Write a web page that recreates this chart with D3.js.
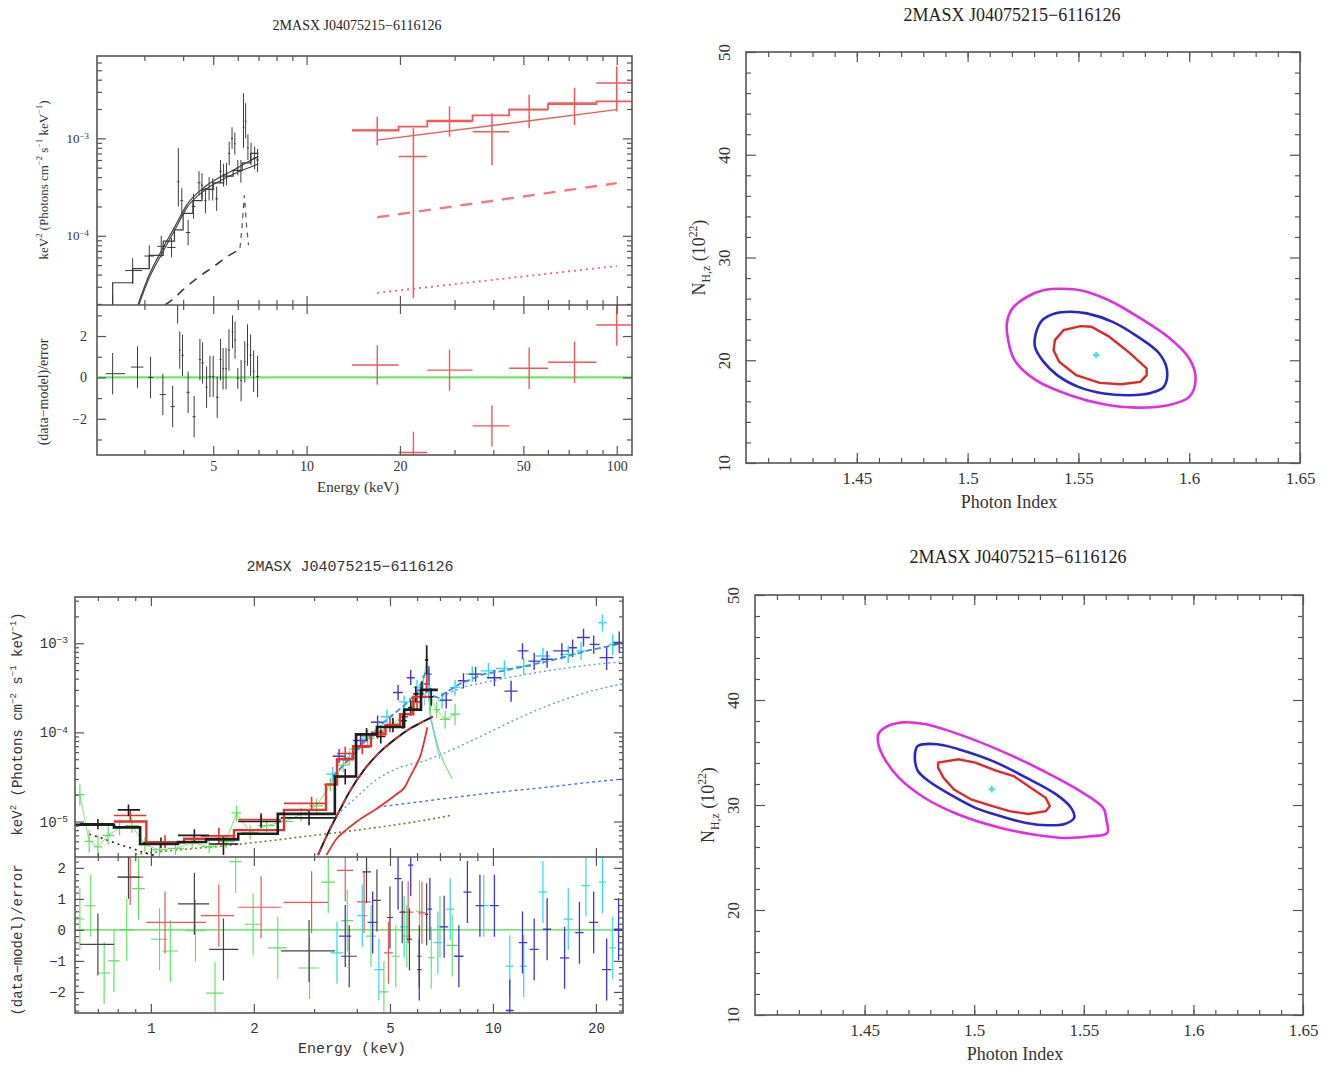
<!DOCTYPE html>
<html>
<head>
<meta charset="utf-8">
<script src="https://cdn.jsdelivr.net/npm/d3@7"></script>
<style>body{margin:0;background:#fff}</style>
</head>
<body>
<svg id="fig" width="1327" height="1066"></svg>
<script>
const TITLE = "2MASX J04075215\u22126116126";

// ---------- top-left spectrum : [E, Elo, Ehi, F, Flo, Fhi] ----------
const tlPnData = [
  [2.37, 2.25, 2.50, 1.9e-5, 1.5e-5, 2.5e-5], [2.75, 2.60, 2.95, 4.4e-5, 3.2e-5, 5.9e-5],
  [3.11, 3.00, 3.22, 6.2e-5, 4.6e-5, 8.0e-5], [3.40, 3.30, 3.52, 7.8e-5, 6.0e-5, 1.0e-4],
  [3.67, 3.55, 3.78, 7.6e-5, 6.0e-5, 9.5e-5], [3.86, 3.83, 3.89, 3.6e-4, 2.0e-4, 8.0e-4],
  [3.96, 3.92, 4.00, 2.3e-4, 1.6e-4, 3.1e-4], [4.15, 4.08, 4.22, 1.08e-4, 8.0e-5, 1.45e-4],
  [4.32, 4.26, 4.38, 2.0e-4, 1.5e-4, 2.7e-4], [4.50, 4.45, 4.55, 3.5e-4, 2.6e-4, 4.6e-4],
  [4.60, 4.56, 4.64, 3.3e-4, 2.4e-4, 4.4e-4], [4.72, 4.68, 4.76, 2.3e-4, 1.7e-4, 3.1e-4],
  [4.85, 4.80, 4.90, 3.0e-4, 2.3e-4, 4.0e-4], [4.98, 4.93, 5.03, 3.0e-4, 2.3e-4, 3.9e-4],
  [5.13, 5.08, 5.18, 2.4e-4, 1.8e-4, 3.2e-4], [5.28, 5.23, 5.33, 4.6e-4, 3.5e-4, 6.0e-4],
  [5.40, 5.35, 5.45, 4.2e-4, 3.2e-4, 5.5e-4], [5.52, 5.47, 5.57, 4.3e-4, 3.3e-4, 5.6e-4],
  [5.63, 5.59, 5.67, 7.0e-4, 5.3e-4, 9.2e-4], [5.75, 5.71, 5.79, 1.0e-3, 7.8e-4, 1.3e-3],
  [5.87, 5.83, 5.91, 8.8e-4, 6.8e-4, 1.15e-3], [6.00, 5.95, 6.05, 5.0e-4, 4.2e-4, 6.0e-4],
  [6.14, 6.09, 6.19, 4.6e-4, 3.5e-4, 6.0e-4], [6.26, 6.22, 6.30, 1.3e-3, 8.0e-4, 2.9e-3],
  [6.36, 6.32, 6.40, 1.5e-3, 1.0e-3, 2.3e-3], [6.47, 6.43, 6.51, 8.0e-4, 6.0e-4, 1.1e-3],
  [6.62, 6.56, 6.68, 7.0e-4, 5.3e-4, 9.0e-4], [6.80, 6.72, 6.88, 6.3e-4, 4.8e-4, 8.2e-4],
  [6.95, 6.88, 7.02, 6.0e-4, 4.5e-4, 7.8e-4]
];
const tlBatData = [
  [16.9, 14.0, 19.8, 1.22e-3, 8.5e-4, 1.67e-3], [22.1, 19.8, 24.5, 6.5e-4, 2.3e-5, 1.27e-3],
  [28.9, 24.5, 34.3, 1.49e-3, 1.04e-3, 2.13e-3], [39.6, 34.3, 45.0, 1.17e-3, 5.3e-4, 1.81e-3],
  [52.2, 45.0, 60.0, 1.97e-3, 1.27e-3, 2.8e-3], [73.1, 60.0, 86.0, 2.3e-3, 1.37e-3, 3.3e-3],
  [100, 86.0, 112, 3.7e-3, 1.89e-3, 5.5e-3]
];
const tlPnStepE = [2.37, 2.75, 3.11, 3.45, 3.75, 4.0, 4.3, 4.6, 5.0, 5.4, 5.8, 6.2, 6.6, 7.0];
const tlPnStepF = [3.3e-5, 4.6e-5, 6.3e-5, 8.8e-5, 1.15e-4, 1.7e-4, 2.3e-4, 3.0e-4, 3.5e-4, 4.1e-4, 4.7e-4, 5.6e-4, 7.0e-4];
const tlTotalE = [2.85, 3.1, 3.4, 3.75, 4.12, 4.68, 5.3, 6.0, 6.5, 7.0];
const tlTotalF = [1.9e-5, 3.9e-5, 7.0e-5, 1.22e-4, 2.1e-4, 3.15e-4, 4.05e-4, 5.0e-4, 5.8e-4, 6.5e-4];
const tlAbsE = [2.87, 3.11, 3.41, 3.75, 4.12, 4.68, 5.30, 6.01, 6.82, 7.0];
const tlAbsF = [1.9e-5, 3.7e-5, 6.5e-5, 1.13e-4, 1.96e-4, 2.92e-4, 3.71e-4, 4.52e-4, 5.3e-4, 5.5e-4];
const tlDashE = [3.5, 3.75, 4.0, 4.5, 5.0, 5.5, 6.2];
const tlDashF = [1.95e-5, 2.3e-5, 2.8e-5, 3.8e-5, 4.8e-5, 6.0e-5, 7.5e-5];
const tlLineE = [6.1, 6.2, 6.3, 6.4, 6.5];
const tlLineF = [7.5e-5, 1.3e-4, 2.6e-4, 1.3e-4, 8e-5];
const tlBatStepE = [14.0, 19.8, 24.5, 34.3, 45.0, 60.0, 86.0, 112];
const tlBatStepF = [1.2e-3, 1.32e-3, 1.52e-3, 1.72e-3, 1.98e-3, 2.25e-3, 2.4e-3];
const tlBatPlE = [16.9, 100], tlBatPlF = [9.6e-4, 1.97e-3];
const tlBatDashF = [1.55e-4, 3.47e-4];
const tlBatDotF = [2.6e-5, 4.9e-5];
// residuals : [E, Elo, Ehi, R, err]
const tlPnResid = [
  [2.37, 2.25, 2.60, 0.18, 1.0], [2.85, 2.72, 2.98, 0.5, 1.0], [3.14, 3.08, 3.20, 0.0, 1.0],
  [3.44, 3.36, 3.52, -0.83, 1.0], [3.70, 3.64, 3.76, -1.41, 1.0], [3.84, 3.82, 3.86, 3.9, 1.3],
  [3.90, 3.88, 3.93, 1.32, 0.9], [3.98, 3.95, 4.02, 1.07, 1.0], [4.15, 4.10, 4.20, -0.72, 1.0],
  [4.34, 4.29, 4.39, -1.9, 1.0], [4.53, 4.49, 4.57, 0.86, 1.0], [4.62, 4.58, 4.66, 0.7, 1.0],
  [4.76, 4.72, 4.80, -0.47, 1.0], [4.88, 4.84, 4.92, 0.05, 1.0], [5.00, 4.96, 5.04, 0.05, 1.0],
  [5.15, 5.10, 5.20, -0.96, 1.0], [5.28, 5.24, 5.32, 0.86, 1.0], [5.38, 5.34, 5.42, 0.42, 1.0],
  [5.50, 5.46, 5.54, 0.42, 1.0], [5.62, 5.58, 5.66, 1.32, 1.0], [5.77, 5.73, 5.81, 2.2, 0.8],
  [5.88, 5.84, 5.92, 1.8, 0.9], [6.00, 5.96, 6.04, -0.05, 0.5], [6.15, 6.11, 6.19, -0.15, 1.0],
  [6.32, 6.28, 6.36, 0.75, 1.0], [6.45, 6.41, 6.49, 1.56, 1.0], [6.60, 6.55, 6.65, 1.07, 1.0],
  [6.75, 6.70, 6.80, 0.3, 1.0], [6.95, 6.88, 7.02, 0.05, 1.0]
];
const tlBatResid = [
  [16.9, 14.0, 19.8, 0.6, 0.95], [22.1, 19.8, 24.5, -3.63, 1.0], [28.9, 24.5, 34.3, 0.35, 1.0],
  [39.6, 34.3, 45.0, -2.34, 1.0], [52.2, 45.0, 60.0, 0.44, 1.0], [73.1, 60.0, 86.0, 0.73, 1.0],
  [100, 86.0, 112, 2.53, 1.0]
];

// ---------- confidence contours : [PhotonIndex, NH] ----------
const trBest = [1.558, 20.5];
const trC99 = [[1.5177,23.58],[1.5202,25.04],[1.5269,26.18],[1.5346,26.83],[1.5423,26.96],[1.5519,26.77],[1.5635,25.86],[1.5769,24.23],[1.5904,22.28],[1.6000,20.17],[1.6029,18.22],[1.6000,16.43],[1.5904,15.62],[1.5760,15.39],[1.5615,15.72],[1.5462,16.60],[1.5308,18.06],[1.5212,20.01],[1.5183,21.96]];
const trC90 = [[1.5308,22.61],[1.5337,23.91],[1.5394,24.56],[1.5462,24.72],[1.5538,24.56],[1.5654,23.74],[1.5769,22.28],[1.5865,20.66],[1.5900,19.03],[1.5885,17.41],[1.5827,16.82],[1.5731,16.60],[1.5615,16.76],[1.5500,17.41],[1.5404,18.55],[1.5337,20.01],[1.5304,21.31]];
const trC68 = [[1.5394,21.96],[1.5433,22.93],[1.5510,23.32],[1.5558,23.26],[1.5635,22.35],[1.5731,20.72],[1.5808,19.20],[1.5808,18.55],[1.5779,17.90],[1.5692,17.67],[1.5596,17.80],[1.5490,18.55],[1.5413,19.85],[1.5388,20.98]];
const brBest = [1.508, 31.5];
const brC99 = [[1.4563,36.75],[1.4598,37.45],[1.4675,37.87],[1.4773,37.71],[1.4928,36.75],[1.5122,35.16],[1.5316,33.24],[1.5471,31.48],[1.5588,29.73],[1.5603,28.61],[1.5607,27.33],[1.5530,27.02],[1.5413,26.86],[1.5277,27.17],[1.5122,27.81],[1.4928,29.09],[1.4773,30.69],[1.4656,32.60],[1.4588,34.52],[1.4563,35.79]];
const brC90 = [[1.4734,35.32],[1.4743,35.63],[1.4831,35.79],[1.4928,35.32],[1.5083,34.20],[1.5238,32.60],[1.5374,31.01],[1.5442,29.73],[1.5456,28.77],[1.5413,28.20],[1.5335,28.07],[1.5238,28.29],[1.5122,28.93],[1.5005,29.73],[1.4889,31.01],[1.4792,32.28],[1.4743,33.24],[1.4730,34.20]];
const brC68 = [[1.4835,34.04],[1.4928,34.36],[1.5005,34.04],[1.5102,33.24],[1.5180,32.76],[1.5258,31.64],[1.5326,30.69],[1.5345,29.89],[1.5326,29.41],[1.5248,29.15],[1.5161,29.41],[1.5083,29.89],[1.4986,30.53],[1.4908,31.48],[1.4860,32.60],[1.4835,33.56]];

// ---------- bottom-left spectrum ----------
const blPnData = [
  [0.70,0.62,0.78,9.4e-6,8.2e-6,1.07e-5],[0.86,0.80,0.93,1.35e-5,1.15e-5,1.55e-5],[1.07,0.95,1.20,5.8e-6,5.0e-6,6.6e-6],
  [1.34,1.20,1.48,7.0e-6,6.0e-6,8.2e-6],[1.63,1.48,1.80,5.6e-6,4.2e-6,6.8e-6],[2.10,1.80,2.40,1.0e-5,8.5e-6,1.2e-5],
  [2.90,2.40,3.45,1.1e-5,9.0e-6,1.35e-5],[3.70,3.45,3.95,3.2e-5,2.6e-5,3.9e-5],[4.27,4.0,4.55,9.5e-5,8.0e-5,1.12e-4],
  [4.7,4.55,4.85,9.0e-5,7.5e-5,1.08e-4],[5.1,4.95,5.25,1.2e-4,1.0e-4,1.45e-4],[5.45,5.3,5.6,1.35e-4,1.1e-4,1.6e-4],
  [5.75,5.65,5.85,1.9e-4,1.55e-4,2.3e-4],[5.95,5.85,6.05,2.7e-4,2.2e-4,3.3e-4],[6.2,6.1,6.3,3.0e-4,2.4e-4,3.7e-4],
  [6.4,6.33,6.47,6.5e-4,4.5e-4,9.5e-4],[6.6,6.5,6.7,2.5e-4,2.0e-4,3.1e-4]
];
const blMos1Data = [
  [0.87,0.78,0.97,1.17e-5,1.0e-5,1.35e-5],[1.10,0.97,1.25,5.9e-6,5.0e-6,7.0e-6],[1.58,1.40,1.75,6.9e-6,5.6e-6,8.5e-6],
  [2.10,1.80,2.40,1.05e-5,9.0e-6,1.25e-5],[2.95,2.45,3.25,1.6e-5,1.35e-5,1.9e-5],[3.70,3.50,3.90,5.8e-5,4.8e-5,6.9e-5],
  [4.15,3.95,4.35,6.8e-5,5.7e-5,8.0e-5],[4.6,4.4,4.8,1.0e-4,8.5e-5,1.2e-4],[5.0,4.85,5.15,1.2e-4,1.0e-4,1.45e-4],
  [5.5,5.35,5.65,1.5e-4,1.25e-4,1.8e-4],[6.0,5.85,6.15,2.2e-4,1.8e-4,2.7e-4],[6.4,6.3,6.5,3.5e-4,2.8e-4,4.4e-4]
];
const blMos2Data = [
  [0.62,0.60,0.64,2.0e-5,1.5e-5,2.6e-5],[0.66,0.64,0.68,6.0e-6,4.5e-6,8.0e-6],[0.70,0.68,0.72,5.2e-6,4.0e-6,7.0e-6],
  [0.75,0.72,0.78,7.0e-6,5.5e-6,9.0e-6],[0.81,0.78,0.84,8.5e-6,7.0e-6,1.05e-5],[0.88,0.84,0.92,9.0e-6,7.5e-6,1.1e-5],
  [0.96,0.92,1.0,5.5e-6,4.6e-6,6.6e-6],[1.06,1.0,1.12,4.8e-6,4.0e-6,5.8e-6],[1.18,1.12,1.25,5.0e-6,4.2e-6,6.0e-6],
  [1.32,1.25,1.40,5.8e-6,4.9e-6,6.8e-6],[1.48,1.40,1.57,5.2e-6,4.4e-6,6.2e-6],[1.66,1.57,1.76,6.0e-6,5.0e-6,7.2e-6],
  [1.78,1.72,1.84,1.25e-5,1.0e-5,1.5e-5],[1.95,1.84,2.06,7.5e-6,6.3e-6,9.0e-6],[2.18,2.06,2.30,9.0e-6,7.6e-6,1.07e-5],
  [2.45,2.30,2.60,1.0e-5,8.5e-6,1.2e-5],[2.75,2.60,2.90,1.2e-5,1.0e-5,1.45e-5],[3.05,2.90,3.20,1.5e-5,1.25e-5,1.8e-5],
  [3.35,3.20,3.50,2.6e-5,2.2e-5,3.1e-5],[3.65,3.50,3.80,4.3e-5,3.6e-5,5.1e-5],[3.95,3.80,4.10,6.5e-5,5.5e-5,7.7e-5],
  [4.3,4.1,4.5,8.5e-5,7.2e-5,1.0e-4],[4.7,4.5,4.9,1.05e-4,9.0e-5,1.23e-4],[5.1,4.9,5.3,1.25e-4,1.07e-4,1.45e-4],
  [5.5,5.3,5.7,1.6e-4,1.35e-4,1.9e-4],[5.9,5.7,6.1,2.2e-4,1.85e-4,2.6e-4],[6.25,6.15,6.35,3.5e-4,2.8e-4,4.4e-4],
  [6.42,6.37,6.47,7.0e-4,5.5e-4,9.0e-4],[6.6,6.5,6.7,2.3e-4,1.9e-4,2.8e-4],[6.85,6.7,7.0,1.8e-4,1.45e-4,2.2e-4],
  [7.25,7.0,7.5,1.4e-4,1.1e-4,1.75e-4],[7.75,7.5,8.0,1.6e-4,1.2e-4,2.1e-4]
];
const blFpmaData = [
  [3.55,3.4,3.7,5.4e-5,4.5e-5,6.5e-5],[4.1,3.9,4.3,8.1e-5,6.8e-5,9.6e-5],[4.6,4.4,4.8,1.3e-4,1.1e-4,1.55e-4],
  [5.28,5.1,5.45,2.8e-4,2.3e-4,3.4e-4],[5.75,5.6,5.9,4.1e-4,3.4e-4,5.0e-4],[6.15,6.0,6.3,2.7e-4,2.2e-4,3.3e-4],
  [6.5,6.38,6.62,4.5e-4,3.7e-4,5.5e-4],[7.3,7.0,7.6,2.3e-4,1.85e-4,2.85e-4],[8.2,7.9,8.5,3.8e-4,3.1e-4,4.6e-4],
  [8.9,8.5,9.3,4.5e-4,3.7e-4,5.4e-4],[10.1,9.6,10.6,4.1e-4,3.3e-4,5.0e-4],[11.3,10.8,11.8,2.9e-4,2.2e-4,3.8e-4],
  [12.2,11.8,12.7,8.2e-4,6.6e-4,1.0e-3],[13.2,12.7,13.8,6.3e-4,5.0e-4,7.8e-4],[14.4,13.8,15.0,6.6e-4,5.3e-4,8.2e-4],
  [15.9,15.0,16.7,8.2e-4,6.6e-4,1.0e-3],[17.1,16.7,17.6,8.9e-4,7.0e-4,1.1e-3],[18.4,17.6,19.2,1.16e-3,9.2e-4,1.45e-3],
  [19.7,19.2,20.5,9.7e-4,7.6e-4,1.22e-3],[21.5,20.5,22.5,6.9e-4,5.0e-4,9.2e-4],[23.4,22.5,24.0,1.02e-3,7.8e-4,1.35e-3]
];
const blFpmbData = [
  [3.4,3.25,3.55,3.4e-5,2.8e-5,4.1e-5],[3.8,3.65,3.95,5.2e-5,4.3e-5,6.2e-5],[4.3,4.1,4.5,9.0e-5,7.5e-5,1.07e-4],
  [4.9,4.7,5.1,1.5e-4,1.25e-4,1.8e-4],[5.5,5.3,5.7,2.2e-4,1.8e-4,2.6e-4],[6.0,5.85,6.15,3.2e-4,2.6e-4,3.9e-4],
  [6.5,6.35,6.65,2.8e-4,2.3e-4,3.4e-4],[7.1,6.9,7.3,2.27e-4,1.85e-4,2.8e-4],[7.75,7.5,8.0,3.2e-4,2.6e-4,3.9e-4],
  [8.7,8.3,9.1,4.5e-4,3.7e-4,5.5e-4],[9.7,9.2,10.2,4.9e-4,4.0e-4,6.0e-4],[10.8,10.2,11.4,5.2e-4,4.2e-4,6.4e-4],
  [12.3,11.7,12.9,5.5e-4,4.4e-4,6.8e-4],[14.0,13.3,14.7,7.2e-4,5.8e-4,8.9e-4],[16.6,15.7,17.5,7.5e-4,6.0e-4,9.4e-4],
  [18.1,17.5,18.7,8.2e-4,6.5e-4,1.03e-3],[20.9,20.3,21.5,1.7e-3,1.35e-3,2.1e-3],[22.4,21.8,23.0,9.7e-4,7.4e-4,1.25e-3]
];
const blPnStepE = [0.60, 0.78, 0.93, 1.20, 1.45, 1.80, 2.35, 3.45, 3.98, 4.58, 5.5, 6.16, 6.9];
const blPnStepF = [9.2e-6, 8.6e-6, 5.6e-6, 5.9e-6, 6.3e-6, 7.3e-6, 1.22e-5, 3.2e-5, 9.5e-5, 1.15e-4, 1.8e-4, 3.0e-4];
const blMosStepE = [0.78, 0.97, 1.25, 1.75, 2.45, 3.25, 3.5, 3.9, 4.4, 4.85, 5.35, 5.85, 6.5];
const blMosStepF = [1.0e-5, 5.8e-6, 6.4e-6, 8.0e-6, 1.35e-5, 2.6e-5, 5.0e-5, 7.0e-5, 9.5e-5, 1.2e-4, 1.6e-4, 2.5e-4];
const blNuModE = [3.4, 3.8, 4.3, 4.9, 5.5, 6.0, 6.4, 6.6, 6.9, 8.0, 9.4, 11, 12.6, 14.5, 16.6, 19, 24];
const blNuModF = [3.2e-5, 5.0e-5, 8.5e-5, 1.4e-4, 2.0e-4, 2.8e-4, 5.0e-4, 2.6e-4, 2.46e-4, 3.5e-4, 4.5e-4, 5.0e-4, 5.6e-4, 6.3e-4, 7.2e-4, 8.3e-4, 1.0e-3];
const blAbsE = [3.08, 3.3, 3.55, 3.82, 4.2, 4.67, 5.2, 5.72, 6.2, 6.67];
const blAbsF = [4.2e-6, 7.5e-6, 1.3e-5, 2.2e-5, 3.8e-5, 6.0e-5, 8.5e-5, 1.1e-4, 1.3e-4, 1.5e-4];
const blReflE = [3.26, 3.5, 3.7, 4.0, 4.64, 5.2, 5.51, 5.75, 6.0, 6.16, 6.3, 6.43];
const blReflF = [4.2e-6, 6.5e-6, 7.9e-6, 1.0e-5, 1.45e-5, 2.0e-5, 2.4e-5, 3.3e-5, 4.5e-5, 5.7e-5, 8.0e-5, 1.14e-4];
const blNuTopE = [6.9, 8, 10, 12.6, 16, 20, 24];
const blNuTopF = [2.4e-4, 3.1e-4, 3.8e-4, 4.5e-4, 5.2e-4, 5.8e-4, 6.2e-4];
const blNuMidE = [3.6, 4.0, 4.6, 5.3, 6.2, 7.0, 8.0, 10, 12.6, 16, 20, 24];
const blNuMidF = [1.3e-5, 1.9e-5, 3.0e-5, 4.0e-5, 4.7e-5, 5.6e-5, 7.0e-5, 1.05e-4, 1.6e-4, 2.3e-4, 3.0e-4, 3.5e-4];
const blNuLowE = [4.6, 6, 8, 10, 14, 20, 24];
const blNuLowF = [1.45e-5, 1.65e-5, 1.9e-5, 2.1e-5, 2.4e-5, 2.8e-5, 3.0e-5];
const blScatE = [0.9, 1.2, 1.6, 2.0, 3.0, 4.0, 5.0, 6.0, 7.5];
const blScatF = [4.3e-6, 4.8e-6, 5.3e-6, 5.8e-6, 7.0e-6, 8.0e-6, 9.0e-6, 1.0e-5, 1.17e-5];
const blThermE = [0.66, 0.72, 0.8, 0.88, 0.95, 1.02];
const blThermF = [7.2e-6, 6.5e-6, 5.6e-6, 5.0e-6, 4.5e-6, 4.2e-6];
const blGreenDropE = [6.4, 6.6, 6.9, 7.2, 7.6];
const blGreenDropF = [7e-4, 1.4e-4, 7e-5, 4.5e-5, 3.0e-5];
const blFeE = [6.3, 6.42, 6.55, 6.75, 7.0];
const blFeF = [2.0e-4, 4.5e-4, 1.5e-4, 9e-5, 5.0e-5];
const blPnResid = [
  [0.70,0.62,0.78,-0.47,1.0],[0.86,0.80,0.93,1.7,0.7],[1.34,1.20,1.48,0.84,1.0],[1.63,1.48,1.80,-0.63,1.0],
  [2.90,2.40,3.45,-0.68,1.0],[3.80,3.60,4.00,-0.85,1.0],[4.27,4.15,4.40,1.87,1.0],[4.58,4.45,4.70,0.95,1.0],
  [5.0,4.9,5.1,0.4,1.0],[5.43,5.33,5.53,0.57,1.0],[5.7,5.6,5.8,-0.3,1.0],[6.09,6.0,6.18,-0.85,1.0],[6.4,6.33,6.47,0.5,1.0]
];
const blMos1Resid = [
  [0.87,0.80,0.95,1.7,0.9],[1.10,0.97,1.45,0.24,1.0],[1.58,1.40,1.75,0.46,1.0],[2.10,1.80,2.40,0.73,1.0],
  [2.95,2.45,3.30,0.89,1.0],[3.70,3.50,3.90,1.92,1.0],[4.20,4.00,4.40,0.9,1.0],[4.95,4.80,5.10,-0.74,1.0],
  [5.65,5.45,5.85,0.57,1.0],[6.2,6.05,6.35,0.55,1.0]
];
const blMos2Resid = [
  [0.62,0.60,0.64,0.35,1.0],[0.667,0.64,0.69,0.78,1.0],[0.73,0.70,0.76,-1.39,1.0],[0.78,0.75,0.81,-1.0,1.0],
  [0.85,0.81,0.89,0.0,1.0],[0.92,0.88,0.96,1.33,1.0],[1.06,1.00,1.12,-0.3,1.0],[1.14,1.08,1.20,-0.68,1.0],
  [1.35,1.26,1.44,-0.03,1.0],[1.54,1.45,1.63,-2.04,1.0],[1.77,1.70,1.84,2.2,1.0],[1.99,1.88,2.10,0.18,1.0],
  [2.35,2.20,2.50,-0.58,1.0],[2.91,2.70,3.10,-1.23,1.0],[3.3,3.15,3.45,1.54,1.0],[3.75,3.6,3.9,0.3,1.0],
  [4.4,4.25,4.55,-0.2,1.0],[4.8,4.65,4.95,-2.0,1.0],[5.2,5.05,5.35,-0.85,1.0],[5.6,5.45,5.75,-0.2,1.0],
  [6.1,5.95,6.25,0.6,1.0],[6.6,6.45,6.75,-0.9,1.0],[7.0,6.85,7.2,0.1,1.0],[7.6,7.3,7.9,-0.5,1.0]
];
const blFpmaResid = [
  [3.7,3.55,3.85,-0.2,1.0],[4.45,4.3,4.6,0.24,1.0],[5.28,5.15,5.4,1.65,1.0],[5.75,5.65,5.85,2.09,1.0],
  [6.09,6.0,6.18,-1.28,1.0],[6.54,6.44,6.64,0.67,1.0],[7.2,7.0,7.4,0.1,1.0],[7.95,7.7,8.2,-0.85,1.0],
  [8.42,8.2,8.65,1.22,1.0],[9.16,8.9,9.4,0.78,1.0],[10.1,9.8,10.4,0.78,1.0],[11.2,10.9,11.5,-2.6,1.0],
  [12.2,11.9,12.6,-0.41,1.0],[13.2,12.8,13.6,-0.63,1.0],[14.4,14.0,14.8,0.02,1.0],[16.2,15.7,16.7,-0.9,1.0],
  [17.9,17.4,18.4,-0.09,1.0],[19.7,19.1,20.3,0.24,1.0],[21.5,20.8,22.2,-1.28,1.0],[23.3,22.6,24.0,0.02,1.0]
];
const blFpmbResid = [
  [3.5,3.35,3.65,-0.74,1.0],[4.15,4.0,4.3,0.46,1.0],[4.64,4.5,4.8,-1.28,1.0],[5.5,5.35,5.65,0.1,1.0],
  [6.9,6.7,7.1,-0.41,1.0],[7.5,7.3,7.7,0.67,1.0],[9.4,9.1,9.7,0.78,1.0],[11.2,10.9,11.5,-1.17,1.0],
  [12.3,12.0,12.6,-1.17,1.0],[14.0,13.6,14.4,1.22,1.0],[16.6,16.1,17.1,0.35,1.0],[18.7,18.2,19.2,1.43,1.0],
  [20.9,20.4,21.4,1.54,1.0],[22.4,21.9,22.9,-0.58,1.0]
];

// ---------- tick values ----------
const tlXMajor = [5, 10, 20, 50, 100];
const tlXMinor = [3, 4, 6, 7, 8, 9, 30, 40, 60, 70, 80, 90];
const tlYMajor = [1e-4, 1e-3];
const tlYMinor = [2e-5,3e-5,4e-5,5e-5,6e-5,7e-5,8e-5,9e-5,2e-4,3e-4,4e-4,5e-4,6e-4,7e-4,8e-4,9e-4,2e-3,3e-3,4e-3,5e-3,6e-3];
const tlRMajor = [-2, 0, 2];
const tlRMinor = [-3, -1, 1, 3];
const ctXMajor = [1.45, 1.5, 1.55, 1.6, 1.65];
const ctXMinor = d3.range(141, 165).map(v => v / 100);
const ctYMajor = [10, 20, 30, 40, 50];
const ctYMinor = [12,14,16,18,22,24,26,28,32,34,36,38,42,44,46,48];
const blXMajor = [1, 2, 5, 10, 20];
const blXMinor = [0.7, 0.8, 0.9, 3, 4, 6, 7, 8, 9];
const blYMajor = [1e-5, 1e-4, 1e-3];
const blYMinor = [5e-6,6e-6,7e-6,8e-6,9e-6,2e-5,3e-5,4e-5,5e-5,6e-5,7e-5,8e-5,9e-5,2e-4,3e-4,4e-4,5e-4,6e-4,7e-4,8e-4,9e-4,2e-3,3e-3];
const blRMajor = [-2, -1, 0, 1, 2];
const blRMinor = d3.range(-26, 24, 2).map(v => v / 10).filter(v => Math.abs(v - Math.round(v)) > 0.01);

const SERIF = "'Liberation Serif', 'DejaVu Serif', serif";
const MONO = "'Liberation Mono', 'DejaVu Sans Mono', monospace";

const svg = d3.select("#fig");
svg.append("rect").attr("width", 1327).attr("height", 1066).attr("fill", "#fff");
const defs = svg.append("defs");
let clipN = 0;
function clipped(x0, y0, x1, y1) {
  const id = "clip" + (clipN++);
  defs.append("clipPath").attr("id", id).append("rect")
    .attr("x", x0).attr("y", y0).attr("width", x1 - x0).attr("height", y1 - y0);
  return svg.append("g").attr("clip-path", `url(#${id})`);
}

// rich text with super/subscripts, parts: [text, "sup"|"sub"|undefined]
function rich(g, x, y, parts, o) {
  const t = g.append("text")
    .attr("transform", `translate(${x},${y})` + (o.rot ? " rotate(-90)" : ""))
    .attr("text-anchor", "middle").attr("font-family", o.font)
    .attr("font-size", o.size).attr("fill", o.fill || "#333");
  let cur = 0;
  parts.forEach(([s, m]) => {
    const target = m === "sup" ? -o.size * 0.45 : m === "sub" ? o.size * 0.3 : 0;
    const ts = t.append("tspan").text(s).attr("dy", target - cur);
    if (m) ts.attr("font-size", o.size * 0.65);
    cur = target;
  });
  return t;
}

function frame(x0, y0, x1, y1) {
  svg.append("rect").attr("x", x0).attr("y", y0).attr("width", x1 - x0).attr("height", y1 - y0)
    .attr("fill", "none").attr("stroke", "#555").attr("stroke-width", 1.6);
}

function axes(xs, ys, c) {
  const g = svg.append("g");
  const add = (axis, tx, ty) => {
    const a = g.append("g").attr("transform", `translate(${tx},${ty})`).call(axis);
    a.select(".domain").remove();
    a.selectAll(".tick line").attr("stroke", "#555").attr("stroke-width", 1.2);
    a.selectAll("text").attr("font-family", c.font).attr("font-size", c.size).attr("fill", "#333");
    return a;
  };
  const none = () => "";
  let bottom = null;
  if (c.xBottom !== false) {
    bottom = add(d3.axisBottom(xs).tickValues(c.xMajor).tickSize(-c.big).tickPadding(c.xPad)
      .tickFormat(c.xFmt || none), 0, c.y1);
    add(d3.axisBottom(xs).tickValues(c.xMinor).tickSize(-c.small).tickFormat(none), 0, c.y1);
  }
  add(d3.axisTop(xs).tickValues(c.xMajor).tickSize(-c.big).tickFormat(none), 0, c.y0);
  add(d3.axisTop(xs).tickValues(c.xMinor).tickSize(-c.small).tickFormat(none), 0, c.y0);
  const left = add(d3.axisLeft(ys).tickValues(c.yMajor).tickSize(-c.big).tickPadding(c.yPad)
    .tickFormat(c.yFmt || none), c.x0, 0);
  add(d3.axisLeft(ys).tickValues(c.yMinor).tickSize(-c.small).tickFormat(none), c.x0, 0);
  add(d3.axisRight(ys).tickValues(c.yMajor).tickSize(-c.big).tickFormat(none), c.x1, 0);
  add(d3.axisRight(ys).tickValues(c.yMinor).tickSize(-c.small).tickFormat(none), c.x1, 0);
  return { bottom, left };
}

function powerLabels(sel, size) {
  sel.selectAll(".tick text").each(function (d) {
    const e = Math.round(Math.log10(d));
    const t = d3.select(this).text(null);
    t.append("tspan").text("10");
    t.append("tspan").attr("dy", "-0.5em").attr("font-size", size * 0.68).text("\u2212" + (-e));
  });
}

function crosses(g, data, xs, ys, color, w) {
  g.append("path")
    .attr("d", data.map(d => `M${xs(d[1])},${ys(d[3])}H${xs(d[2])}M${xs(d[0])},${ys(d[4])}V${ys(d[5])}`).join(""))
    .attr("fill", "none").attr("stroke", color).attr("stroke-width", w);
}
const resid = rows => rows.map(r => [r[0], r[1], r[2], r[3], r[3] - r[4], r[3] + r[4]]);

function curve(g, E, F, xs, ys, color, w, dash, kind) {
  const pts = E.map((e, i) => [e, F[i]]);
  const line = d3.line().x(d => xs(d[0])).y(d => ys(d[1])).curve(kind || d3.curveMonotoneX);
  const p = g.append("path").attr("d", line(pts)).attr("fill", "none")
    .attr("stroke", color).attr("stroke-width", w);
  if (dash) p.attr("stroke-dasharray", dash);
  return p;
}
function steps(g, edges, vals, xs, ys, color, w, dash) {
  const pts = vals.map((v, i) => [edges[i], v]).concat([[edges[edges.length - 1], vals[vals.length - 1]]]);
  return curve(g, pts.map(p => p[0]), pts.map(p => p[1]), xs, ys, color, w, dash, d3.curveStepAfter);
}

// =================== TOP-LEFT ===================
{
  const x0 = 97, x1 = 632, y0 = 56, ym = 305, y1 = 455;
  const xs = d3.scaleLog().domain([2.11, 112]).range([x0, x1]);
  const ys = d3.scaleLog().domain([1.95e-5, 7.0e-3]).range([ym, y0]);
  const rs = d3.scaleLinear().domain([-3.75, 3.5]).range([y1, ym]);

  const g = clipped(x0, y0, x1, ym);
  const BLK = "#3c3c3c", RED = "#f05a5a";
  crosses(g, tlPnData, xs, ys, BLK, 1);
  steps(g, [2.37].concat(tlPnStepE), [1e-5].concat(tlPnStepF), xs, ys, BLK, 1.2);
  curve(g, tlTotalE, tlTotalF, xs, ys, BLK, 1.2);
  curve(g, tlAbsE, tlAbsF, xs, ys, BLK, 1.1);
  curve(g, tlDashE, tlDashF, xs, ys, BLK, 1.6, "9,7");
  curve(g, tlLineE, tlLineF, xs, ys, "#555", 1.2, "5,5", d3.curveLinear);
  crosses(g, tlBatData, xs, ys, RED, 1.5);
  steps(g, tlBatStepE, tlBatStepF, xs, ys, RED, 1.8);
  curve(g, tlBatPlE, tlBatPlF, xs, ys, RED, 1.4, null, d3.curveLinear);
  curve(g, tlBatPlE, tlBatDashF, xs, ys, "#f37a7a", 2.4, "12,9", d3.curveLinear);
  curve(g, tlBatPlE, tlBatDotF, xs, ys, "#e4609a", 1.8, "2,4", d3.curveLinear);

  const gr = clipped(x0, ym, x1, y1);
  gr.append("line").attr("x1", x0).attr("x2", x1).attr("y1", rs(0)).attr("y2", rs(0))
    .attr("stroke", "#6fe46f").attr("stroke-width", 2.2);
  crosses(gr, resid(tlPnResid), xs, rs, BLK, 1);
  crosses(gr, resid(tlBatResid), xs, rs, RED, 1.4);

  const a1 = axes(xs, ys, { x0, x1, y0, y1: ym, xMajor: tlXMajor, xMinor: tlXMinor, yMajor: tlYMajor,
    yMinor: tlYMinor, big: 9, small: 5, xBottom: true, yPad: 8, xPad: 4, font: SERIF, size: 13,
    yFmt: d => d });
  powerLabels(a1.left, 13);
  axes(xs, rs, { x0, x1, y0: ym, y1, xMajor: tlXMajor, xMinor: tlXMinor, yMajor: tlRMajor,
    yMinor: tlRMinor, big: 9, small: 5, xPad: 6, yPad: 10, font: SERIF, size: 14,
    xFmt: d3.format("d"), yFmt: d3.format("d") });
  frame(x0, y0, x1, y1);
  svg.append("line").attr("x1", x0).attr("x2", x1).attr("y1", ym).attr("y2", ym)
    .attr("stroke", "#555").attr("stroke-width", 1.6);

  svg.append("text").attr("x", 357).attr("y", 30).attr("text-anchor", "middle")
    .attr("font-family", SERIF).attr("font-size", 14).attr("fill", "#222").text(TITLE);
  svg.append("text").attr("x", 358).attr("y", 492).attr("text-anchor", "middle")
    .attr("font-family", SERIF).attr("font-size", 15).attr("fill", "#333").text("Energy (keV)");
  rich(svg, 48, 180, [["keV"], ["2", "sup"], [" (Photons cm"], ["\u22122", "sup"], [" s"], ["\u22121", "sup"],
    [" keV"], ["\u22121", "sup"], [")"]], { font: SERIF, size: 13, rot: true });
  rich(svg, 48, 392, [["(data\u2212model)/error"]], { font: SERIF, size: 14, rot: true });
}

// =================== CONTOUR PANELS ===================
function contourPanel(x0, y0, x1, y1, c99, c90, c68, best, titleY) {
  const xs = d3.scaleLinear().domain([1.4, 1.65]).range([x0, x1]);
  const ys = d3.scaleLinear().domain([10, 50]).range([y1, y0]);
  const g = clipped(x0, y0, x1, y1);
  const smooth = d3.line().x(d => xs(d[0])).y(d => ys(d[1])).curve(d3.curveCatmullRomClosed);
  const poly = d3.line().x(d => xs(d[0])).y(d => ys(d[1])).curve(d3.curveLinearClosed);
  g.append("path").attr("d", smooth(c99)).attr("fill", "none").attr("stroke", "#e22ee2").attr("stroke-width", 2.6);
  g.append("path").attr("d", smooth(c90)).attr("fill", "none").attr("stroke", "#2828c8").attr("stroke-width", 2.6);
  g.append("path").attr("d", poly(c68)).attr("fill", "none").attr("stroke", "#e02828").attr("stroke-width", 2.4);
  g.append("path").attr("d", d3.symbol(d3.symbolCross, 22)())
    .attr("transform", `translate(${xs(best[0])},${ys(best[1])})`).attr("fill", "#3fe3e3");

  const a = axes(xs, ys, { x0, x1, y0, y1, xMajor: ctXMajor, xMinor: ctXMinor, yMajor: ctYMajor,
    yMinor: ctYMinor, big: 10, small: 5, xPad: 9, yPad: 0, font: SERIF, size: 17,
    xFmt: d => d3.format("")(d), yFmt: d3.format("d") });
  a.left.selectAll(".tick text").attr("x", 0).attr("dy", "0.35em").attr("text-anchor", "middle")
    .attr("transform", "translate(-22,0) rotate(-90)");
  frame(x0, y0, x1, y1);
  const cx = (x0 + x1) / 2;
  svg.append("text").attr("x", cx - 11).attr("y", titleY).attr("text-anchor", "middle")
    .attr("font-family", SERIF).attr("font-size", 18).attr("fill", "#222").text(TITLE);
  svg.append("text").attr("x", cx - 14).attr("y", y1 + 45).attr("text-anchor", "middle")
    .attr("font-family", SERIF).attr("font-size", 18).attr("fill", "#333").text("Photon Index");
  rich(svg, x0 - 41, (y0 + y1) / 2, [["N"], ["H,z", "sub"], [" (10"], ["22", "sup"], [")"]],
    { font: SERIF, size: 18, rot: true });
}
contourPanel(746, 52, 1300, 463, trC99, trC90, trC68, trBest, 21);
contourPanel(755, 595, 1303, 1015, brC99, brC90, brC68, brBest, 563);

// =================== BOTTOM-LEFT ===================
{
  const x0 = 75, x1 = 623, y0 = 597, ym = 857, y1 = 1013;
  const xs = d3.scaleLog().domain([0.6, 24]).range([x0, x1]);
  const ys = d3.scaleLog().domain([4.0e-6, 3.3e-3]).range([ym, y0]);
  const rs = d3.scaleLinear().domain([-2.68, 2.35]).range([y1, ym]);
  const BLK = "#1e1e1e", RED = "#e53232", GRN = "#5ce05c", BLU = "#4436cc", CYA = "#38d6ea";

  const g = clipped(x0, y0, x1, ym);
  curve(g, blScatE, blScatF, xs, ys, "#7a7a30", 1.6, "2,3");
  curve(g, blThermE, blThermF, xs, ys, BLK, 1.6, "2,4");
  curve(g, blNuTopE, blNuTopF, xs, ys, "#5aa0e0", 1.4, "2,3");
  curve(g, blNuMidE, blNuMidF, xs, ys, "#5aa0e0", 1.4, "2,3");
  curve(g, blNuLowE, blNuLowF, xs, ys, "#4a7ad8", 1.4, "3,3");
  curve(g, blGreenDropE, blGreenDropF, xs, ys, GRN, 1, null, d3.curveLinear);
  curve(g, blFeE, blFeF, xs, ys, "#7ab8f0", 1, null, d3.curveLinear);
  crosses(g, blMos2Data, xs, ys, GRN, 1.2);
  curve(g, blMos2Data.map(d => d[0]), blMos2Data.map(d => d[3]), xs, ys, GRN, 0.8, null, d3.curveLinear);
  crosses(g, blFpmbData, xs, ys, CYA, 1.4);
  crosses(g, blFpmaData, xs, ys, BLU, 1.4);
  curve(g, blNuModE, blNuModF, xs, ys, "#3a8ee0", 1.8, "6,3", d3.curveLinear);
  crosses(g, blMos1Data, xs, ys, RED, 1.6);
  crosses(g, blPnData, xs, ys, BLK, 1.6);
  steps(g, blMosStepE, blMosStepF, xs, ys, RED, 2.4);
  steps(g, blPnStepE, blPnStepF, xs, ys, BLK, 2.6);
  curve(g, blAbsE, blAbsF, xs, ys, BLK, 2);
  curve(g, blAbsE, blAbsF, xs, ys, RED, 1.4, "7,7");
  curve(g, blReflE, blReflF, xs, ys, RED, 1.8);

  const gr = clipped(x0, ym, x1, y1);
  gr.append("line").attr("x1", x0).attr("x2", x1).attr("y1", rs(0)).attr("y2", rs(0))
    .attr("stroke", "#7ee47e").attr("stroke-width", 1.6);
  crosses(gr, resid(blMos2Resid), xs, rs, GRN, 1.1);
  crosses(gr, resid(blFpmbResid), xs, rs, CYA, 1.2);
  crosses(gr, resid(blFpmaResid), xs, rs, BLU, 1.3);
  crosses(gr, resid(blMos1Resid), xs, rs, "#ee5555", 1.2);
  crosses(gr, resid(blPnResid), xs, rs, "#444", 1.2);

  const a1 = axes(xs, ys, { x0, x1, y0, y1: ym, xMajor: blXMajor, xMinor: blXMinor, yMajor: blYMajor,
    yMinor: blYMinor, big: 9, small: 4, yPad: 7, xPad: 4, font: MONO, size: 14, yFmt: d => d });
  powerLabels(a1.left, 14);
  axes(xs, rs, { x0, x1, y0: ym, y1, xMajor: blXMajor, xMinor: blXMinor, yMajor: blRMajor,
    yMinor: blRMinor, big: 9, small: 4, xPad: 10, yPad: 9, font: MONO, size: 14,
    xFmt: d3.format("d"), yFmt: d3.format("d") });
  frame(x0, y0, x1, y1);
  svg.append("line").attr("x1", x0).attr("x2", x1).attr("y1", ym).attr("y2", ym)
    .attr("stroke", "#555").attr("stroke-width", 1.6);

  svg.append("text").attr("x", 350).attr("y", 571).attr("text-anchor", "middle")
    .attr("font-family", MONO).attr("font-size", 15).attr("fill", "#333").text(TITLE);
  svg.append("text").attr("x", 352).attr("y", 1053).attr("text-anchor", "middle")
    .attr("font-family", MONO).attr("font-size", 15).attr("fill", "#333").text("Energy (keV)");
  rich(svg, 22, 724, [["keV"], ["2", "sup"], [" (Photons cm"], ["\u22122", "sup"], [" s"], ["\u22121", "sup"],
    [" keV"], ["\u22121", "sup"], [")"]], { font: MONO, size: 14, rot: true });
  rich(svg, 22, 940, [["(data\u2212model)/error"]], { font: MONO, size: 14, rot: true });
}
</script>
</body>
</html>
